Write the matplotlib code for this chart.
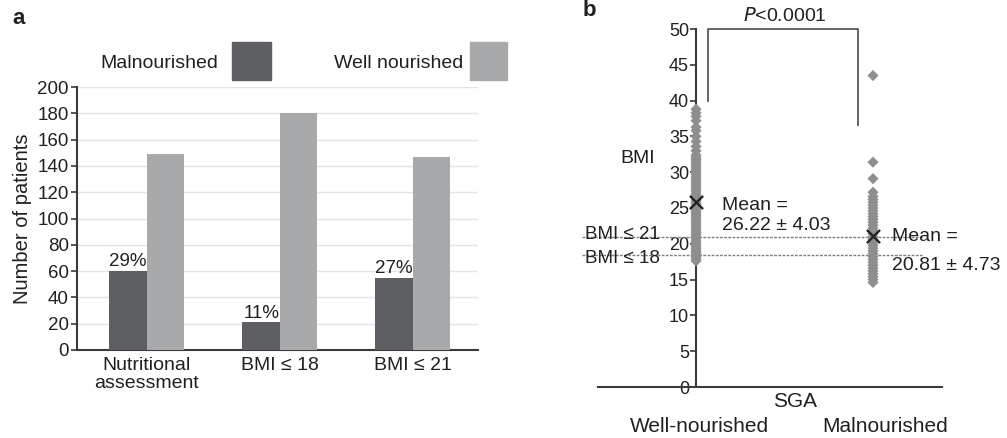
import matplotlib
matplotlib.use("Agg")
import matplotlib.pyplot as plt
from matplotlib.patches import Rectangle

plt.rcParams['font.family'] = ['Liberation Sans', 'DejaVu Sans']

# ---- Panel a data ----
categories = ["Nutritional\nassessment", "BMI \u2264 18", "BMI \u2264 21"]
malnourished = [60, 21, 55]
well_nourished = [149, 180, 147]
pct_labels = ["29%", "11%", "27%"]
yticks_a = list(range(0, 201, 20))

# ---- Panel b data ----
bmi_well = [17.6, 17.9, 18.2, 18.5, 18.8, 19.0, 19.3, 19.6, 19.9, 20.2, 20.5, 20.8,
            21.0, 21.3, 21.6, 21.9, 22.2, 22.5, 22.8, 23.1, 23.4, 23.7, 24.0, 24.3,
            24.6, 24.9, 25.2, 25.5, 25.8, 26.1, 26.4, 26.7, 27.0, 27.3, 27.6, 27.9,
            28.2, 28.5, 28.8, 29.1, 29.4, 29.7, 30.0, 30.3, 30.6, 30.9, 31.2, 31.5,
            31.8, 32.1, 32.4, 33.0, 33.6, 34.3, 35.0, 35.8, 36.3, 37.2, 37.8, 38.3, 38.8]
bmi_mal = [14.6, 15.0, 15.4, 15.8, 16.2, 16.6, 17.0, 17.4, 17.8, 18.2, 18.6, 19.0,
           19.4, 19.8, 20.2, 20.6, 21.0, 21.4, 21.8, 22.2, 22.6, 23.0, 23.4, 23.8,
           24.2, 24.6, 25.0, 25.4, 25.8, 26.2, 26.6, 27.2, 29.1, 31.4, 43.5]
mean_well, sd_well = 26.22, 4.03
mean_mal, sd_mal = 20.81, 4.73
group_labels = ["Well-nourished", "Malnourished"]
cutoffs = [21, 18.5]
cutoff_labels = ["BMI \u2264 21", "BMI \u2264 18"]
yticks_b = list(range(0, 51, 5))

DARK = "#5e5f63"
LIGHT = "#a8a9ab"
TXT = "#231f20"
AX = "#3a3a3a"

W, H = 1007, 438
fig = plt.figure(figsize=(W / 100, H / 100), dpi=100)

def fx(px):
    return px / W

def fy(py):
    return 1 - py / H

# ================= Panel a =================
ax1 = fig.add_axes([fx(77), fy(350), fx(478 - 77), (350 - 87) / H])
x = list(range(len(categories)))
bw = 0.282
ax1.bar([i - bw / 2 for i in x], malnourished, width=bw, color=DARK, zorder=3)
ax1.bar([i + bw / 2 for i in x], well_nourished, width=bw, color=LIGHT, zorder=3)
for i, v in enumerate(malnourished):
    ax1.text(i - bw / 2, v + 0.5, pct_labels[i], ha='center', va='bottom',
             fontsize=13.5, color=TXT, zorder=4)
ax1.set_xlim(-0.526, 2.489)
ax1.set_ylim(0, 200)
ax1.set_yticks(yticks_a)
ax1.set_yticklabels([str(t) for t in yticks_a], fontsize=13.5, color=TXT)
ax1.set_xticks(x)
ax1.set_xticklabels(categories, fontsize=14, color=TXT, linespacing=1.05)
ax1.tick_params(axis='x', length=0, pad=5)
ax1.tick_params(axis='y', length=4, width=1.2, color=AX, pad=2)
for t in yticks_a[1:]:
    ax1.axhline(t, color="#e4e4e4", lw=1, zorder=1)
for s in ['top', 'right']:
    ax1.spines[s].set_visible(False)
for s in ['left', 'bottom']:
    ax1.spines[s].set_color(AX)
    ax1.spines[s].set_linewidth(1.5)
ax1.set_ylabel("Number of patients", fontsize=14.5, color=TXT, labelpad=4)

# legend (manual)
fig.add_artist(Rectangle((fx(232), fy(80)), fx(271 - 232), (80 - 42) / H,
                         color=DARK, transform=fig.transFigure))
fig.add_artist(Rectangle((fx(470), fy(80)), fx(507 - 470), (80 - 42) / H,
                         color=LIGHT, transform=fig.transFigure))
fig.text(fx(218), fy(63), "Malnourished", ha='right', va='center', fontsize=14, color=TXT)
fig.text(fx(463), fy(63), "Well nourished", ha='right', va='center', fontsize=14, color=TXT)
fig.text(fx(12), fy(19), "a", ha='left', va='center', fontsize=16, fontweight='bold', color=TXT)

# ================= Panel b =================
ax2 = fig.add_axes([fx(598), fy(387), fx(942 - 598), (387 - 29) / H])
ax2.set_xlim(-0.554, 1.39)
ax2.set_ylim(0, 50)
ax2.scatter([0] * len(bmi_well), bmi_well, marker='D', s=32, color="#8e8e90",
            edgecolors='none', zorder=3)
ax2.scatter([1] * len(bmi_mal), bmi_mal, marker='D', s=32, color="#8e8e90",
            edgecolors='none', zorder=3)
ax2.scatter([0, 1], [mean_well - 0.4, mean_mal + 0.3], marker='x', s=90,
            color="#222222", linewidths=1.7, zorder=5)

ax2.spines['left'].set_position(('data', 0))
for s in ['top', 'right']:
    ax2.spines[s].set_visible(False)
for s in ['left', 'bottom']:
    ax2.spines[s].set_color(AX)
    ax2.spines[s].set_linewidth(1.5)
ax2.set_yticks(yticks_b)
ax2.set_yticklabels([str(t) for t in yticks_b], fontsize=13, color=TXT)
ax2.tick_params(axis='y', length=4, width=1.2, color=AX, pad=1)
ax2.set_xticks([])

# cutoff dotted lines
for c in cutoffs:
    ax2.plot([-0.644, 1.277], [c, c], ls=(0, (2, 1)), lw=1.0, color="#7e7e7e",
             clip_on=False, zorder=2)
ax2.text(-0.63, cutoffs[0] + 0.3, cutoff_labels[0], ha='left', va='center',
         fontsize=13.5, color=TXT)
ax2.text(-0.63, cutoffs[1] - 0.6, cutoff_labels[1], ha='left', va='center',
         fontsize=13.5, color=TXT)
ax2.text(-0.43, 31.9, "BMI", ha='left', va='center', fontsize=14, color=TXT)

# mean labels (two lines each)
ax2.text(0.145, 25.4, "Mean =", ha='left', va='center', fontsize=14, color=TXT)
ax2.text(0.145, 22.6, "%.2f \u00b1 %.2f" % (mean_well, sd_well), ha='left',
         va='center', fontsize=14, color=TXT)
ax2.text(1.11, 20.95, "Mean =", ha='left', va='center', fontsize=14, color=TXT)
ax2.text(1.11, 17.0, "%.2f \u00b1 %.2f" % (mean_mal, sd_mal), ha='left',
         va='center', fontsize=14, color=TXT)

# significance bracket
ax2.plot([0.068, 0.068, 0.915, 0.915], [40, 50, 50, 36.6], color="#4a4a4a",
         lw=1.2, clip_on=False)
ax2.text(0.5, 51.8, r"$\it{P}$<0.0001", ha='center', va='center', fontsize=14,
         color=TXT)

# x labels
ax2.text(0.56, -2.0, "SGA", ha='center', va='center', fontsize=15, color=TXT)
ax2.text(0.02, -5.5, group_labels[0], ha='center', va='center', fontsize=15, color=TXT)
ax2.text(1.07, -5.5, group_labels[1], ha='center', va='center', fontsize=15, color=TXT)

fig.text(fx(583), fy(11), "b", ha='left', va='center', fontsize=16, fontweight='bold', color=TXT)

fig.savefig("out.png", dpi=100)
